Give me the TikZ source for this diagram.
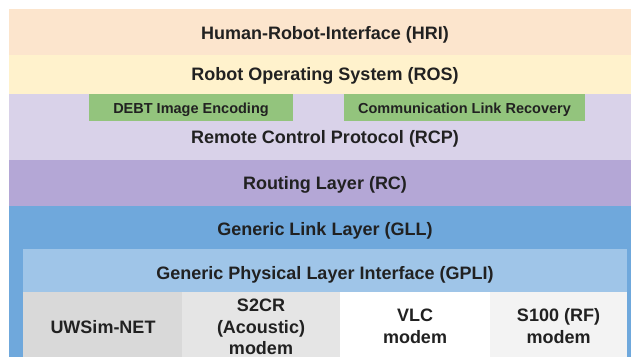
\documentclass[tikz,border=0pt]{standalone}
\usepackage{fontspec}
\setmainfont{Liberation Sans}
\usetikzlibrary{positioning}

\definecolor{hricol}{HTML}{FCE5CD}
\definecolor{roscol}{HTML}{FFF2CC}
\definecolor{rcpcol}{HTML}{D9D2E9}
\definecolor{modcol}{HTML}{93C47D}
\definecolor{rccol}{HTML}{B4A7D6}
\definecolor{gllcol}{HTML}{6FA8DC}
\definecolor{gplicol}{HTML}{9FC5E8}
\definecolor{simcol}{HTML}{D9D9D9}
\definecolor{acoucol}{HTML}{E5E5E5}
\definecolor{rfcol}{HTML}{F3F3F3}

\tikzset{
    lbl/.style={font=\bfseries\fontsize{18}{21.5}\selectfont, text=black!87, align=center, inner sep=0pt},
    layername/.style={lbl, anchor=base},
    modbox/.style={fill=modcol, font=\bfseries\fontsize{14.5}{17}\selectfont, text=black!87, inner sep=0pt,
        minimum height=27, text height=11.6, text depth=0pt}
}

\begin{document}
\begin{tikzpicture}[x=1pt,y=-1pt]
            \useasboundingbox (0,0) rectangle (631,357);

            \fill[hricol]  (9,9)    rectangle (631,55);
            \fill[roscol]  (9,55)   rectangle (631,94);
            \fill[rcpcol]  (9,94)   rectangle (631,160);
            \fill[rccol]   (9,160)  rectangle (631,206);
            \fill[gllcol]  (9,206)  rectangle (631,357);
            \fill[gplicol] (23,249) rectangle (627,292);

            \fill[simcol]  (23,292)  rectangle (182,357);
            \fill[acoucol] (182,292) rectangle (340,357);
            \fill[white]   (340,292) rectangle (490,357);
            \fill[rfcol]   (490,292) rectangle (627,357);

            \node[modbox, minimum width=204] (debt) at (191,107.2) {DEBT Image Encoding};
            \node[modbox, minimum width=241] (clr) at (464.5,107.2) {Communication Link Recovery};

            \node[layername] (hri)  at (325,39)    {Human-Robot-Interface (HRI)};
            \node[layername] (ros)  at (325,80.7)  {Robot Operating System (ROS)};
            \node[layername] (rcp)  at (325,143.3) {Remote Control Protocol (RCP)};
            \node[layername] (rc)   at (325,189)   {Routing Layer (RC)};
            \node[layername] (gll)  at (325,235)   {Generic Link Layer (GLL)};
            \node[layername] (gpli) at (325,279)   {Generic Physical Layer Interface (GPLI)};

            \node[layername] (uwsim) at (103,333.3) {UWSim-NET};
            \node[lbl] (s2cr)  at (261,327)     {S2CR\\(Acoustic)\\modem};
            \node[lbl] (vlc)   at (415,326.3)   {VLC\\modem};
            \node[lbl] (s100)  at (558.5,326.2) {S100 (RF)\\modem};
        \end{tikzpicture}
\end{document}
